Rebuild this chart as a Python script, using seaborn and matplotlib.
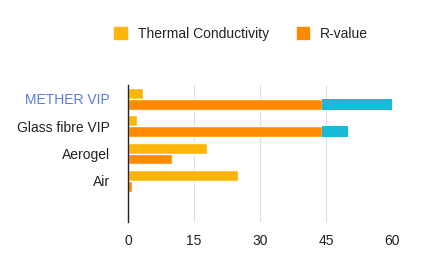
import matplotlib
matplotlib.use("Agg")
import matplotlib.pyplot as plt
import seaborn as sns
import pandas as pd
from matplotlib.patches import Patch

materials = ["METHER VIP", "Glass fibre VIP", "Aerogel", "Air", ""]
thermal_conductivity = [3.5, 2, 18, 25, 0]
r_value = [44, 44, 10, 1, 0]
r_value_extra = [16, 6, 0, 0, 0]
series_names = ["Thermal Conductivity", "R-value"]
x_ticks = [0, 15, 30, 45, 60]

c_yellow = "#FDB508"
c_orange = "#FF8A00"
c_cyan = "#17BBD9"

sns.set_theme(style="white")
plt.rcParams["font.family"] = ["Liberation Sans", "DejaVu Sans"]

df = pd.DataFrame({
    "material": materials * 2,
    "value": thermal_conductivity + r_value,
    "series": [series_names[0]] * len(materials) + [series_names[1]] * len(materials),
})

fig = plt.figure(figsize=(4.27, 2.54), dpi=100)
ax = fig.add_axes([0.30, 0.126, 0.618, 0.539])

sns.barplot(data=df, y="material", x="value", hue="series", orient="h",
            palette=[c_yellow, c_orange], width=0.8, gap=0, saturation=1,
            order=materials, hue_order=series_names, legend=False, ax=ax)

# cyan extension stacked on R-value bars
orange_patches = ax.containers[1]
for patch, extra, base in zip(orange_patches, r_value_extra, r_value):
    if extra > 0:
        ax.barh(patch.get_y() + patch.get_height() / 2, extra, left=base,
                height=patch.get_height(), color=c_cyan, linewidth=0)

ax.set_xlim(0, 60)
ax.set_ylim(len(materials) - 0.5, -0.5)
ax.set_xticks(x_ticks)
ax.set_xticklabels([str(t) for t in x_ticks], fontsize=10, color="#222222")
ax.tick_params(axis="x", length=0, pad=9)
ax.tick_params(axis="y", length=0, pad=13)
ax.set_xlabel("")
ax.set_ylabel("")
ax.xaxis.grid(True, color="#dddddd", linewidth=0.8)
ax.set_axisbelow(True)
for s in ["top", "right", "bottom"]:
    ax.spines[s].set_visible(False)
ax.spines["left"].set_color("#222222")
ax.spines["left"].set_linewidth(1.0)

labels = ax.get_yticklabels()
for lab in labels:
    lab.set_fontsize(10)
    lab.set_color("#5A7BDD" if lab.get_text() == "METHER VIP" else "#222222")

handles = [Patch(color=c_yellow), Patch(color=c_orange)]
fig.legend(handles, series_names, loc="center", bbox_to_anchor=(0.565, 0.867),
           ncol=2, frameon=False, fontsize=10, handlelength=0.9, handleheight=0.9,
           handletextpad=0.8, columnspacing=2.0, labelcolor="#222222")

fig.savefig("out.png", dpi=100, facecolor="white")
